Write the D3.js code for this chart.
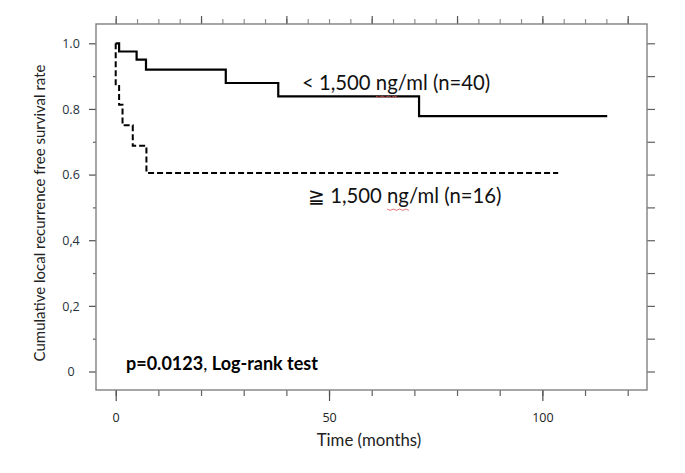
<!DOCTYPE html>
<html>
<head>
<meta charset="utf-8">
<script src="https://cdn.jsdelivr.net/npm/d3@7"></script>
<style>
  html, body { margin: 0; padding: 0; background: #fff; }
  svg { display: block; }
</style>
</head>
<body>
<svg id="chart" width="685" height="473"></svg>
<script>
// ---- data ----
const lowTimes = [0, 0.8, 4.9, 7.1, 25.8, 38.1, 71.1];          // months
const lowSurv  = [1.0, 0.975, 0.95, 0.92, 0.879, 0.838, 0.778];
const lowEnd   = 115.2;
const highTimes = [0, 0, 0.8, 1.6, 4.0, 7.2];
const highSurv  = [1.0, 0.875, 0.8125, 0.75, 0.6875, 0.605];
const highEnd   = 103.7;

const xTickLabels = [0, 50, 100];
const xMinorTicks = [0, 10, 20, 30, 40, 50, 60, 70, 80, 90, 100, 110, 120];
const topMajorTicks = [0, 20, 40, 60, 80, 100, 120];
const topMinorTicks = d3.range(0, 121, 5);
const yTickValues = [0, 0.2, 0.4, 0.6, 0.8, 1.0];
const yTickLabels = ["0", "0,2", "0,4", "0.6", "0.8", "1.0"];
const yMinorTicks = [0.1, 0.3, 0.5, 0.7, 0.9];
const yRightTicks = d3.range(0, 11).map(d => d / 10);

const lowLabel = ["< 1,500 ", "ng", "/ml (n=40)"];
const highLabel = ["\u2267 1,500 ", "ng", "/ml (n=16)"];
const xTitle = "Time (months)";
const yTitle = "Cumulative local recurrence free survival rate";

// ---- layout ----
const box = { left: 96, right: 647, top: 24, bottom: 390 };
const svg = d3.select("#chart");

const x = d3.scaleLinear().domain([0, 120]).range([115.7, 627.7]);
const y = d3.scaleLinear().domain([0, 1]).range([371.5, 43.3]);

const axisColor = "#808080";
const labelFont = "'Open Sans', 'DejaVu Sans', sans-serif";
const textFont = "Lato, 'Open Sans', sans-serif";

function styleAxis(g, color) {
  g.select(".domain").remove();
  g.selectAll(".tick line").attr("stroke", color).attr("stroke-width", 1.2);
}

// top axis (no labels)
svg.append("g").attr("transform", `translate(0,${box.top})`)
  .call(d3.axisTop(x).tickValues(topMinorTicks).tickSize(5).tickFormat(""))
  .call(g => styleAxis(g, "#909090"));
svg.append("g").attr("transform", `translate(0,${box.top})`)
  .call(d3.axisTop(x).tickValues(topMajorTicks).tickSize(8).tickFormat(""))
  .call(g => styleAxis(g, "#555"));

// bottom axis
svg.append("g").attr("transform", `translate(0,${box.bottom})`)
  .call(d3.axisBottom(x).tickValues(xMinorTicks).tickSize(6).tickFormat(""))
  .call(g => styleAxis(g, "#606060"));
const bx = svg.append("g").attr("transform", `translate(0,${box.bottom})`)
  .call(d3.axisBottom(x).tickValues(xTickLabels).tickSize(11).tickFormat(d3.format("d")))
  .call(g => styleAxis(g, "#505050"));
bx.selectAll(".tick text")
  .attr("y", 23.3).attr("dy", "0.71em")
  .attr("font-family", labelFont).attr("font-size", 12.5).attr("fill", "#222");

// left axis
svg.append("g").attr("transform", `translate(${box.left},0)`)
  .call(d3.axisLeft(y).tickValues(yMinorTicks).tickSize(3).tickFormat(""))
  .call(g => styleAxis(g, "#606060"));
const ly = svg.append("g").attr("transform", `translate(${box.left},0)`)
  .call(d3.axisLeft(y).tickValues(yTickValues).tickSize(7)
        .tickFormat((d, i) => yTickLabels[i]))
  .call(g => styleAxis(g, "#505050"));
ly.selectAll(".tick text")
  .attr("x", -25).attr("text-anchor", "middle").attr("dy", "0.35em")
  .attr("font-family", labelFont).attr("font-size", 12.5).attr("fill", "#26323a");

// right axis
svg.append("g").attr("transform", `translate(${box.right},0)`)
  .call(d3.axisRight(y).tickValues(yRightTicks).tickSize(8).tickFormat(""))
  .call(g => styleAxis(g, "#606060"));

// frame
svg.append("rect")
  .attr("x", box.left).attr("y", box.top)
  .attr("width", box.right - box.left).attr("height", box.bottom - box.top)
  .attr("fill", "none").attr("stroke", axisColor).attr("stroke-width", 1.4);

// ---- survival curves ----
const step = d3.line().x(d => x(d[0])).y(d => y(d[1])).curve(d3.curveStepAfter);

function pts(times, surv, end) {
  const p = times.map((t, i) => [t, surv[i]]);
  p.push([end, surv[surv.length - 1]]);
  return p;
}

svg.append("path")
  .attr("d", step(pts(highTimes, highSurv, highEnd)))
  .attr("fill", "none").attr("stroke", "#000").attr("stroke-width", 2)
  .attr("stroke-dasharray", "6,3");

svg.append("path")
  .attr("d", step(pts(lowTimes, lowSurv, lowEnd)))
  .attr("fill", "none").attr("stroke", "#000").attr("stroke-width", 2.2);

// ---- annotations ----
function labelWithSquiggle(parts, tx, ty, size) {
  const t = svg.append("text").attr("x", tx).attr("y", ty)
    .attr("font-family", textFont).attr("font-size", size).attr("fill", "#111");
  parts.forEach(p => t.append("tspan").text(p));
  // red wavy spell-check underline under "ng"
  const node = t.node();
  const full = parts.join("");
  const start = parts[0].length;
  const x0 = tx + node.getSubStringLength(0, start);
  const w = node.getSubStringLength(start, parts[1].length);
  const yy = ty + size * 0.3;
  const n = Math.max(2, Math.round(w / 3));
  let d = `M${x0},${yy}`;
  for (let i = 1; i <= n; i++) {
    d += ` L${x0 + (w * i) / n},${yy + (i % 2 ? 1.3 : 0)}`;
  }
  svg.append("path").attr("d", d).attr("fill", "none")
    .attr("stroke", "#e05050").attr("stroke-width", 0.8);
}
labelWithSquiggle(lowLabel, 302, 90, 20.3);
labelWithSquiggle(highLabel, 308, 203, 20.3);

const pt = svg.append("text").attr("x", 126).attr("y", 370)
  .attr("font-family", textFont).attr("font-size", 18).attr("fill", "#000");
pt.append("tspan").attr("font-weight", "bold").text("p=0.0123");
pt.append("tspan").attr("font-weight", "normal").text(", ");
pt.append("tspan").attr("font-weight", "bold").text("Log-rank test");

svg.append("text").attr("x", 369).attr("y", 445.5)
  .attr("text-anchor", "middle")
  .attr("font-family", textFont).attr("font-size", 16.8).attr("fill", "#222")
  .text(xTitle);

svg.append("text")
  .attr("transform", "translate(45,213) rotate(-90)")
  .attr("text-anchor", "middle")
  .attr("font-family", textFont).attr("font-size", 15).attr("fill", "#222")
  .text(yTitle);
</script>
</body>
</html>
